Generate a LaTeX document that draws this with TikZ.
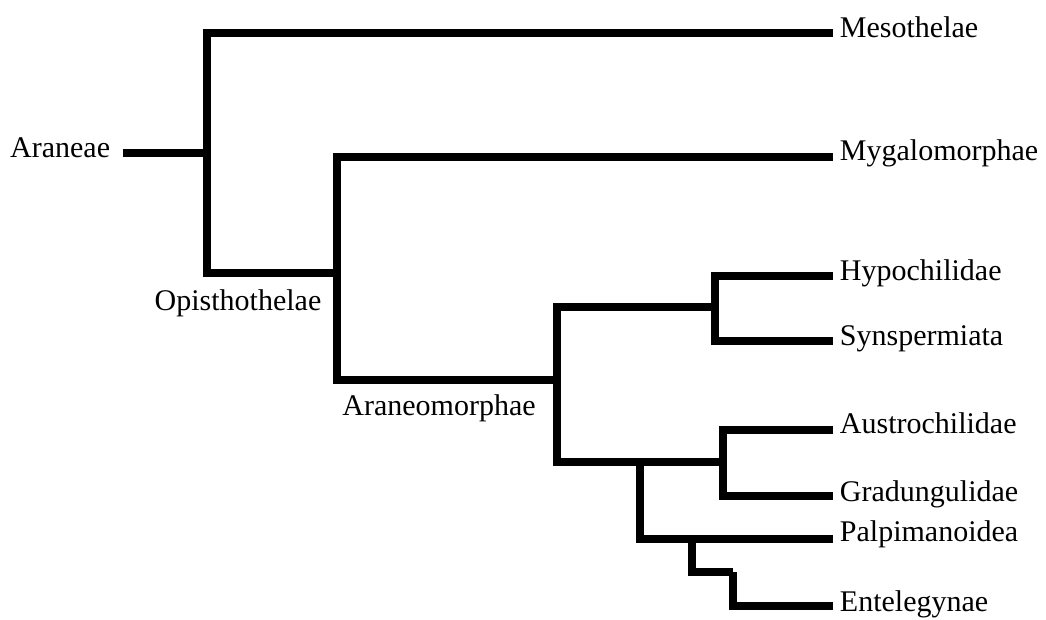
\documentclass[tikz,border=0pt]{standalone}
\usepackage{fontspec}
\setmainfont{Liberation Serif}
\tikzset{
  branch/.style={line width=5.5pt, line join=miter},
  clade/.style={inner xsep=5pt, inner ysep=0pt, font=\fontsize{22.5pt}{26pt}\selectfont, text height=0.88em, text depth=0.27em},
  taxon/.style={clade, anchor=west}
}
\begin{document}
\begin{tikzpicture}[x=0.75pt,y=0.75pt,yscale=-1,xscale=1]
        \useasboundingbox (0,0) rectangle (1046,619);
        % Text Node
        \node[taxon] (mes) at (833,33) {Mesothelae};
        % Text Node
        \node[taxon, text depth=0.42em] (myg) at (833,157) {Mygalomorphae};
        % Text Node
        \node[taxon] (hyp) at (833,276) {Hypochilidae};
        % Text Node
        \node[taxon] (syn) at (833,341) {Synspermiata};
        % Text Node
        \node[taxon, text depth=0.33em] (aus) at (833,430) {Austrochilidae};
        % Text Node
        \node[taxon, text depth=0pt] (gra) at (833,496) {Gradungulidae};
        % Text Node
        \node[taxon, text depth=0.45em] (pal) at (833,539) {Palpimanoidea};
        % Text Node
        \node[taxon, text depth=0.07em] (ent) at (833,606) {Entelegynae};
        % Text Node
        \node[clade, anchor=east] (ara) at (117,153) {Araneae};
        % Text Node
        \node[clade] (opl) at (238,306) {Opisthothelae};
        % Text Node
        \node[clade] (aml) at (439,411) {Araneomorphae};

        % Junctions
        \coordinate (root) at (207,153);
        \coordinate (opis) at (337,273);
        \coordinate (araneo) at (557,380);
        \coordinate (hypsyn) at (715,307);
        \coordinate (rest) at (640,462);
        \coordinate (ausgra) at (723,462);
        \coordinate (palent) at (692,539);
        \coordinate (stair) at (733,572);

        % Branches
        \draw[branch] (ara.east) ++(6,0) -- (root);
        \draw[branch] (mes.west) -| (root) |- (opis);
        \draw[branch] (myg.west) -| (opis) |- (araneo);
        \draw[branch] (hypsyn) -| (araneo) |- (rest) -- (ausgra);
        \draw[branch] (hyp.west) -| (hypsyn) |- (syn.west);
        \draw[branch] (aus.west) -| (ausgra) |- (gra.west);
        \draw[branch] (rest) |- (pal.west);
        \draw[branch] (palent) |- (stair);
        \draw[branch] (stair) |- (ent.west);
\end{tikzpicture}
\end{document}
